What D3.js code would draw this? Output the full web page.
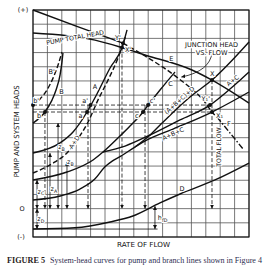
<!DOCTYPE html>
<html>
<head>
<meta charset="utf-8">
<script src="https://cdn.jsdelivr.net/npm/d3@7"></script>
<style>
body { margin: 0; background: #fff; }
svg { display: block; }
</style>
</head>
<body>
<svg id="chart" width="272" height="274"></svg>
<script>
// grid units: flow 0..15 across, head -2..14 up (0 line two rows above bottom)
const flowCols = d3.range(0, 16);
const headRows = d3.range(-2, 15);

// curves, [flow, head]
const pumpHead = [[0,12.38],[4.31,11.88],[6.18,11.35],[7.78,10.83],[11.04,9.77],[12.43,9.06],[15,7.44]];
const junctionSolid = [[0,14],[3,12.87],[6.25,11.66]];
const junctionDashed = [[6.25,11.66],[7.78,10.76],[10.07,9.2],[11.94,7.5],[12.43,6.81],[12.78,6.45]];
const junctionF = [[12.78,6.45],[14.65,4.13]];
const curveA = [[0,3.92],[1.88,4.63],[2.78,5.4],[3.75,6.81],[4.44,8.08],[5.35,9.91],[6.18,11.35],[6.53,12.6]];
const curveAD = [[0,2.51],[1.53,3.29],[2.36,3.92],[3.06,4.84],[3.82,6.1],[4.51,7.65],[5.21,9.06],[5.9,10.61],[6.46,12.24]];
const curveB = [[0,6.03],[0.83,6.81],[1.32,7.65],[1.6,8.36],[1.88,9.42],[2.01,10.33],[2.08,10.97]];
const curveB2 = [[0,7.3],[0.49,7.73],[0.97,8.36],[1.39,9.2],[1.74,10.12],[2.01,11.04]];
const curveC = [[0,2.02],[2.36,2.58],[4.17,3.43],[4.86,3.99],[6.04,5.12],[6.88,5.96],[7.64,6.81],[7.99,7.3],[8.82,8.36],[9.86,9.63]];
const curveAC = [[4.86,3.99],[6.39,4.41],[8.13,5.19],[10.21,6.25],[12.29,7.3],[13.68,8.43],[15,9.63]];
const curveABC = [[0,0.61],[1.88,0.89],[3.26,1.38],[4.31,2.1],[5,2.95],[5.5,3.35],[6.04,3.66],[7.08,4.34],[7.92,4.84],[9.72,5.61],[12.43,6.81],[15,8.22]];
const curveABCD = [[7.08,4.34],[8.13,5.19],[8.96,6.03],[10.9,7.87],[12.43,9.06],[15,11.74]];
const curveD = [[0,-1.44],[2.92,-1.35],[5.35,-0.94],[6.94,-0.52],[8.82,0.4],[10.21,1.03],[12.64,2.02],[15,3.21]];

// marked points
const points = [[0,7.3],[0.83,6.81],[4.0,7.3],[3.75,6.81],[7.99,7.3],[7.64,6.81],
  [6.25,11.66],[6.18,11.35],[12.43,9.06],[12.29,7.3],[12.43,6.81]];

// reading lines
const readLevels = [{head:7.3, from:0, to:12.29}, {head:6.81, from:0, to:12.43}];
const drops = [{flow:0.83, top:6.81}, {flow:3.82, top:7.3}, {flow:6.18, top:11.35},
  {flow:7.78, top:7.3}, {flow:12.43, top:9.06}];
const statics = [{flow:0.28, lo:0, hi:2.02}, {flow:1.18, lo:0, hi:3.92}, {flow:1.74, lo:0, hi:6.03},
  {flow:2.36, lo:0, hi:3.3}, {flow:0.28, lo:-1.44, hi:0}, {flow:8.47, lo:-1.44, hi:0.18}];
const baseRef = [[0,-1.44],[8.65,-1.44]];

// labels
const letterLabels = [
  {t:"B'", x:1.3, y:9.6}, {t:"B", x:1.98, y:8.2}, {t:"b'", x:0.22, y:7.6}, {t:"b", x:0.42, y:6.55},
  {t:"A", x:4.3, y:8.55}, {t:"a'", x:3.62, y:7.6}, {t:"a", x:3.3, y:6.55},
  {t:"c'", x:8.3, y:7.6}, {t:"c", x:7.2, y:6.55}, {t:"C", x:9.55, y:8.75},
  {t:"E", x:9.6, y:10.55}, {t:"F", x:13.6, y:5.95}, {t:"D", x:10.35, y:1.4},
  {t:"X", x:12.45, y:9.5}, {t:"X'", x:6.6, y:11.2}, {t:"Y'", x:5.9, y:12.0},
  {t:"Y\u2081'", x:12.0, y:7.75}, {t:"X\u2081", x:12.95, y:6.55}
];
const zLabels = [
  {t:"z", s:"C", x:0.55, y:1.2}, {t:"z", s:"A", x:1.45, y:1.35}, {t:"z", s:"B", x:1.98, y:4.35},
  {t:"z", s:"B", x:2.6, y:3.3}, {t:"z", s:"D", x:0.55, y:-0.75}, {t:"h", s:"fD", x:9.0, y:-0.66}
];
const slantLabels = [
  {t:"PUMP TOTAL HEAD", x:2.92, y:12.08, a:-10.5},
  {t:"(A+B+C)+D", x:10.15, y:7.65, a:-42},
  {t:"A+B+C", x:9.72, y:5.3, a:-24},
  {t:"A+C", x:13.85, y:9.05, a:-38},
  {t:"A+D", x:2.85, y:4.7, a:-57},
  {t:"TOTAL FLOW", x:12.85, y:4.34, a:-90}
];

const plot = {left: 33, right: 249, top: 10, bottom: 237};
const x = d3.scaleLinear().domain([0, 15]).range([plot.left, plot.right]);
const y = d3.scaleLinear().domain([-2, 14]).range([plot.bottom, plot.top]);

const svg = d3.select("#chart");
const ink = "#111";
const font = "DejaVu Sans, Arial, sans-serif";

svg.append("defs").append("marker")
    .attr("id", "ah")
    .attr("viewBox", "0 0 6 6")
    .attr("refX", 6).attr("refY", 3)
    .attr("markerWidth", 4).attr("markerHeight", 4)
    .attr("markerUnits", "userSpaceOnUse")
    .attr("orient", "auto-start-reverse")
  .append("path")
    .attr("d", "M0,0L6,3L0,6Z")
    .attr("fill", ink);

// grid
const grid = svg.append("g").attr("stroke", "#555").attr("stroke-width", 0.8);
grid.selectAll(".v").data(flowCols).join("line")
    .attr("x1", d => x(d)).attr("x2", d => x(d))
    .attr("y1", y(-2)).attr("y2", y(14));
grid.selectAll(".h").data(headRows).join("line")
    .attr("x1", x(0)).attr("x2", x(15))
    .attr("y1", d => y(d)).attr("y2", d => y(d));
svg.append("rect")
    .attr("x", x(0)).attr("y", y(14))
    .attr("width", x(15) - x(0)).attr("height", y(-2) - y(14))
    .attr("fill", "none").attr("stroke", ink).attr("stroke-width", 1.1);

// reading lines
const guides = svg.append("g").attr("stroke", ink).attr("stroke-width", 0.8).attr("fill", "none");
guides.selectAll(".lvl").data(readLevels).join("line")
    .attr("x1", d => x(d.from)).attr("x2", d => x(d.to))
    .attr("y1", d => y(d.head)).attr("y2", d => y(d.head))
    .attr("stroke-dasharray", "4,2");
guides.selectAll(".drop").data(drops).join("line")
    .attr("x1", d => x(d.flow)).attr("x2", d => x(d.flow))
    .attr("y1", d => y(d.top)).attr("y2", y(0))
    .attr("stroke-dasharray", "4,2")
    .attr("marker-end", "url(#ah)");
guides.selectAll(".stat").data(statics).join("line")
    .attr("x1", d => x(d.flow)).attr("x2", d => x(d.flow))
    .attr("y1", d => y(d.lo)).attr("y2", d => y(d.hi))
    .attr("marker-start", "url(#ah)")
    .attr("marker-end", "url(#ah)");

const line = d3.line().x(d => x(d[0])).y(d => y(d[1])).curve(d3.curveMonotoneX);
const straight = d3.line().x(d => x(d[0])).y(d => y(d[1]));
guides.append("path").attr("d", straight(baseRef));

// curves
const curves = svg.append("g").attr("fill", "none").attr("stroke", ink).attr("stroke-width", 1.4);
[pumpHead, junctionSolid, curveA, curveB, curveC, curveAC, curveABC, curveABCD, curveD].forEach(c => {
  curves.append("path").attr("d", line(c));
});
[junctionDashed, curveAD, curveB2].forEach(c => {
  curves.append("path").attr("d", line(c)).attr("stroke-dasharray", "5,2.5");
});
curves.append("path").attr("d", straight(junctionF)).attr("stroke-dasharray", "6,2,1.5,2");

svg.append("g").selectAll("circle").data(points).join("circle")
    .attr("cx", d => x(d[0])).attr("cy", d => y(d[1]))
    .attr("r", 2).attr("fill", ink);

// junction head callout arrow
svg.append("path")
    .attr("d", `M${x(12.43)},${y(11.0)} Q${x(12.3)},${y(9.7)} ${x(10.3)},${y(9.27)}`)
    .attr("fill", "none").attr("stroke", ink).attr("stroke-width", 0.8)
    .attr("marker-end", "url(#ah)");

// labels
const halo = sel => sel.attr("paint-order", "stroke").attr("stroke", "#fff")
    .attr("stroke-width", 2.2).attr("stroke-linejoin", "round");

svg.append("g").selectAll("text").data(letterLabels).join("text")
    .attr("x", d => x(d.x)).attr("y", d => y(d.y))
    .attr("text-anchor", "middle").attr("dominant-baseline", "central")
    .attr("font-family", font).attr("font-size", 6.5).attr("fill", ink)
    .text(d => d.t)
    .call(halo);

const zt = svg.append("g").selectAll("text").data(zLabels).join("text")
    .attr("x", d => x(d.x)).attr("y", d => y(d.y))
    .attr("text-anchor", "middle").attr("dominant-baseline", "central")
    .attr("font-family", font).attr("font-size", 6.5).attr("fill", ink)
    .call(halo);
zt.append("tspan").text(d => d.t);
zt.append("tspan").attr("font-size", 4.8).attr("dy", 1.8).text(d => d.s);

svg.append("g").selectAll("text").data(slantLabels).join("text")
    .attr("transform", d => `translate(${x(d.x)},${y(d.y)}) rotate(${d.a})`)
    .attr("text-anchor", "middle").attr("dominant-baseline", "central")
    .attr("font-family", font).attr("font-size", 6.2).attr("fill", ink)
    .text(d => d.t)
    .call(halo);

const jn = svg.append("text")
    .attr("text-anchor", "middle")
    .attr("font-family", font).attr("font-size", 6.6).attr("fill", ink)
    .call(halo).attr("stroke-width", 3);
jn.append("tspan").attr("x", x(12.4)).attr("y", y(11.4)).text("JUNCTION HEAD");
jn.append("tspan").attr("x", x(12.4)).attr("y", y(10.85)).text("VS. FLOW");

// axis marks and titles
const side = [{t:"(+)", x:23, y:y(14)}, {t:"O", x:22, y:y(0)}, {t:"(-)", x:21, y:y(-2)}];
svg.append("g").selectAll("text").data(side).join("text")
    .attr("x", d => d.x).attr("y", d => d.y)
    .attr("text-anchor", "middle").attr("dominant-baseline", "central")
    .attr("font-family", font).attr("font-size", 6.5).attr("fill", ink)
    .text(d => d.t);

svg.append("text")
    .attr("transform", `translate(17,${y(5.45)}) rotate(-90)`)
    .attr("text-anchor", "middle").attr("dominant-baseline", "central")
    .attr("font-family", font).attr("font-size", 7).attr("fill", ink)
    .attr("textLength", 92).attr("lengthAdjust", "spacingAndGlyphs")
    .text("PUMP AND SYSTEM HEADS");

svg.append("text")
    .attr("x", 143.5).attr("y", 245)
    .attr("text-anchor", "middle").attr("dominant-baseline", "central")
    .attr("font-family", font).attr("font-size", 7).attr("fill", ink)
    .attr("textLength", 53).attr("lengthAdjust", "spacingAndGlyphs")
    .text("RATE OF FLOW");

// caption
svg.append("text")
    .attr("x", 7).attr("y", 262.5)
    .attr("font-family", "Liberation Serif, serif").attr("font-weight", "bold")
    .attr("font-size", 7.4).attr("fill", "#2a1c1c")
    .attr("textLength", 38).attr("lengthAdjust", "spacingAndGlyphs")
    .text("FIGURE 5");
svg.append("text")
    .attr("x", 50).attr("y", 262.5)
    .attr("font-family", "Liberation Serif, serif")
    .attr("font-size", 7.2).attr("fill", "#2d2d50")
    .attr("textLength", 212).attr("lengthAdjust", "spacingAndGlyphs")
    .text("System-head curves for pump and branch lines shown in Figure 4");
</script>
</body>
</html>
